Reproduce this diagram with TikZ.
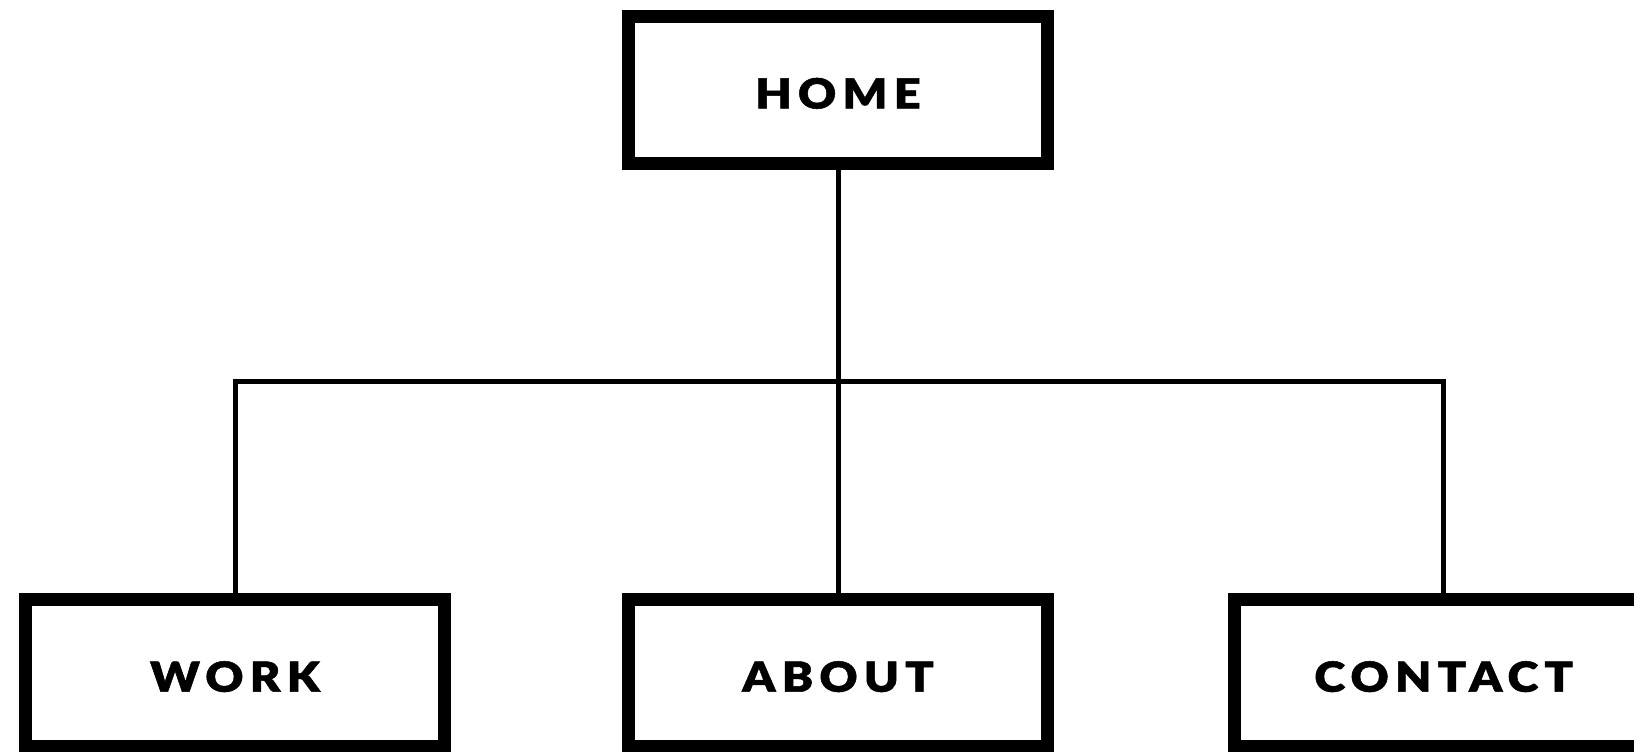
\documentclass[tikz,border=0pt]{standalone}
\usepackage{fontspec}
\newfontfamily\labelfont{Lato Black}[LetterSpace=15, FakeStretch=1.13, FakeBold=1.2]
\begin{document}
\begin{tikzpicture}[x=1pt,y=1pt,
  page/.style={draw=black, line width=13pt, fill=white, rectangle,
    minimum width=419pt, minimum height=146.5pt, inner sep=0pt,
    text height=37pt, text depth=0pt,
    font=\labelfont\fontsize{41.5}{41.5}\selectfont},
  link/.style={draw=black, line width=5pt, line join=miter}]
  \useasboundingbox (0,0) rectangle (1634,752);
  % site map: one parent page, three child pages
  \node[page] (home)    at (838,662)    {HOME};
  \node[page] (work)    at (235,78.75)  {WORK};
  \node[page] (about)   at (838,78.75)  {ABOUT};
  \node[page] (contact) at (1443.7,78.75) {CONTACT};
  \coordinate (hub) at (838,370.3);
  \draw[link] (home.south) -- (about.north);
  \draw[link] (work.north) |- (hub) -| (contact.north);
\end{tikzpicture}
\end{document}
